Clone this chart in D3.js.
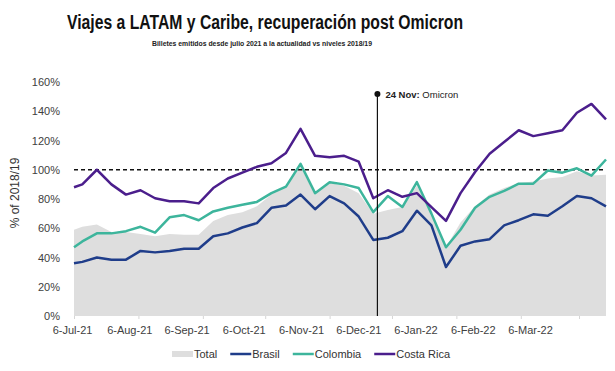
<!DOCTYPE html>
<html>
<head>
  <meta charset="utf-8">
  <script src="https://cdn.jsdelivr.net/npm/d3@7"></script>
  <style>
    body { margin: 0; background: #fff; }
    text { font-family: "Liberation Sans", Arial, sans-serif; }
  </style>
</head>
<body>
<script>
  // weekly data points (first point is the start date, then Saturdays)
  var weeks = ["2021-07-06", "2021-07-10", "2021-07-17", "2021-07-24", "2021-07-31",
    "2021-08-07", "2021-08-14", "2021-08-21", "2021-08-28", "2021-09-04",
    "2021-09-11", "2021-09-18", "2021-09-25", "2021-10-02", "2021-10-09",
    "2021-10-16", "2021-10-23", "2021-10-30", "2021-11-06", "2021-11-13",
    "2021-11-20", "2021-11-27", "2021-12-04", "2021-12-11", "2021-12-18",
    "2021-12-25", "2022-01-01", "2022-01-08", "2022-01-15", "2022-01-22",
    "2022-01-29", "2022-02-05", "2022-02-12", "2022-02-19", "2022-02-26",
    "2022-03-05", "2022-03-12", "2022-03-19"];

  var total = [59, 61, 62.5, 57.5, 57.5, 56, 54.5, 56, 55.5, 55.5,
    65, 69, 71, 75, 83, 89, 102, 83, 91, 89,
    84, 70, 72.5, 74.5, 89, 70, 47, 64, 75, 83,
    87.5, 91, 92, 94, 95, 99, 96, 96.5];

  var brasil = [36, 37, 40, 38.5, 38.5, 44.5, 43.5, 44.5, 46, 46,
    54.5, 56.5, 60.5, 63.5, 74, 75.5, 83, 73, 82, 77,
    68, 52, 53.5, 58, 72, 62, 33.5, 48, 51, 52.5,
    62, 65.5, 69.5, 68.5, 75, 82, 80.5, 75];

  var colombia = [47, 51, 56.5, 56.5, 58, 61, 57, 67.5, 69, 65.5,
    71.5, 74, 76, 78, 84, 88.5, 104, 84, 91.5, 90,
    87.5, 71, 82, 74.5, 91.5, 70, 47, 59, 74, 81.5,
    85.5, 90.5, 90.5, 99.5, 98, 101, 96, 107];

  var costaRica = [88, 90, 100, 90, 83, 86, 80.5, 78.5, 78.5, 77,
    87.5, 94, 98, 102, 104.5, 111.5, 128, 109.5, 108.5, 109.5,
    105.5, 80.5, 86, 81.5, 84, 74.5, 65, 84, 98.5, 111,
    119, 127, 123, 125, 127, 139, 145, 134.5];

  var yTicks = [0, 20, 40, 60, 80, 100, 120, 140, 160];
  var monthTicks = ["2021-07-06", "2021-08-06", "2021-09-06", "2021-10-06", "2021-11-06",
    "2021-12-06", "2022-01-06", "2022-02-06", "2022-03-06"];
  var monthLabels = ["6-Jul-21", "6-Aug-21", "6-Sep-21", "6-Oct-21", "6-Nov-21",
    "6-Dec-21", "6-Jan-22", "6-Feb-22", "6-Mar-22"];

  var omicronDate = "2021-11-29";
  var omicronLabel = ["24 Nov:", " Omicron"];

  var lineSeries = [
    {name: "Brasil", values: brasil, color: "#1f3d8a"},
    {name: "Colombia", values: colombia, color: "#3db59c"},
    {name: "Costa Rica", values: costaRica, color: "#4b1e8c"}
  ];

  var width = 615, height = 371;
  var plotLeft = 74, plotRight = 606, plotTop = 82, plotBottom = 316;
  var parse = d3.timeParse("%Y-%m-%d");
  var dates = weeks.map(parse);

  var svg = d3.select("body").append("svg")
    .attr("width", width)
    .attr("height", height);

  var x = d3.scaleTime()
    .domain([dates[0], dates[dates.length - 1]])
    .range([plotLeft, plotRight]);

  var y = d3.scaleLinear()
    .domain([0, 160])
    .range([plotBottom, plotTop]);

  // title
  svg.append("text")
    .attr("x", 67).attr("y", 29)
    .attr("textLength", 396).attr("lengthAdjust", "spacingAndGlyphs")
    .style("font-size", "20px").style("font-weight", "bold").style("fill", "#111")
    .text("Viajes a LATAM y Caribe, recuperación post Omicron");

  svg.append("text")
    .attr("x", 152).attr("y", 46)
    .attr("textLength", 220).attr("lengthAdjust", "spacingAndGlyphs")
    .style("font-size", "8px").style("font-weight", "bold").style("fill", "#222")
    .text("Billetes emitidos desde julio 2021 a la actualidad vs niveles 2018/19");

  // total area
  var area = d3.area()
    .x(function(d, i) { return x(dates[i]); })
    .y0(y(0))
    .y1(function(d) { return y(d); });

  svg.append("path")
    .datum(total)
    .attr("d", area)
    .style("fill", "#dedede");

  // 100% reference
  svg.append("line")
    .attr("x1", plotLeft).attr("x2", plotRight)
    .attr("y1", y(100)).attr("y2", y(100))
    .style("stroke", "#111").style("stroke-width", 1.4)
    .style("stroke-dasharray", "4,3");

  // y axis
  var yAxis = svg.append("g")
    .attr("transform", "translate(" + (plotLeft - 11) + ",0)")
    .call(d3.axisLeft(y).tickValues(yTicks).tickSize(0)
      .tickFormat(function(d) { return d + "%"; }));
  yAxis.select(".domain").remove();
  yAxis.selectAll("text")
    .style("font-size", "11px").style("fill", "#404040")
    .style("font-family", "Liberation Sans, Arial, sans-serif");

  svg.append("text")
    .attr("transform", "translate(19,193) rotate(-90)")
    .style("text-anchor", "middle").style("font-size", "12px").style("fill", "#333")
    .text("% of 2018/19");

  // x axis tick marks (faint)
  var xAxis = svg.append("g")
    .attr("transform", "translate(0," + plotBottom + ")")
    .call(d3.axisBottom(x).tickValues(monthTicks.map(parse)).tickSize(3).tickFormat(""));
  xAxis.select(".domain").remove();
  xAxis.selectAll("line").style("stroke", "#d6d6d6");

  // x labels
  var xl = d3.scalePoint().domain(monthLabels).range([72, 530]);
  var xLab = svg.append("g")
    .attr("transform", "translate(0," + (plotBottom + 7) + ")")
    .call(d3.axisBottom(xl).tickSize(0));
  xLab.select(".domain").remove();
  xLab.selectAll("text")
    .style("font-size", "11px").style("fill", "#404040")
    .style("font-family", "Liberation Sans, Arial, sans-serif");

  // lines
  var line = d3.line()
    .x(function(d, i) { return x(dates[i]); })
    .y(function(d) { return y(d); });

  lineSeries.forEach(function(s) {
    svg.append("path")
      .datum(s.values)
      .attr("d", line)
      .style("fill", "none")
      .style("stroke", s.color)
      .style("stroke-width", 2.5)
      .style("stroke-linejoin", "round");
  });

  // omicron marker
  var ox = x(parse(omicronDate));
  svg.append("line")
    .attr("x1", ox).attr("x2", ox)
    .attr("y1", 94).attr("y2", plotBottom)
    .style("stroke", "#111").style("stroke-width", 1.2);
  svg.append("circle")
    .attr("cx", ox).attr("cy", 94).attr("r", 3)
    .style("fill", "#111");
  var ot = svg.append("text")
    .attr("x", ox + 8).attr("y", 97.5)
    .style("font-size", "9.5px").style("fill", "#222");
  ot.append("tspan").style("font-weight", "bold").text(omicronLabel[0]);
  ot.append("tspan").text(omicronLabel[1]);

  // legend
  var legendItems = [{name: "Total", color: "#dedede", area: true}].concat(lineSeries);
  var lx = 172, ly = 354;
  legendItems.forEach(function(s) {
    if (s.area) {
      svg.append("rect")
        .attr("x", lx).attr("y", ly - 3).attr("width", 21).attr("height", 6)
        .style("fill", s.color);
    } else {
      svg.append("line")
        .attr("x1", lx).attr("x2", lx + 21)
        .attr("y1", ly).attr("y2", ly)
        .style("stroke", s.color).style("stroke-width", 2.5);
    }
    var t = svg.append("text")
      .attr("x", lx + 22).attr("y", ly + 4)
      .style("font-size", "11px").style("fill", "#333")
      .text(s.name);
    lx += 22 + t.node().getComputedTextLength() + 13;
  });
</script>
</body>
</html>
